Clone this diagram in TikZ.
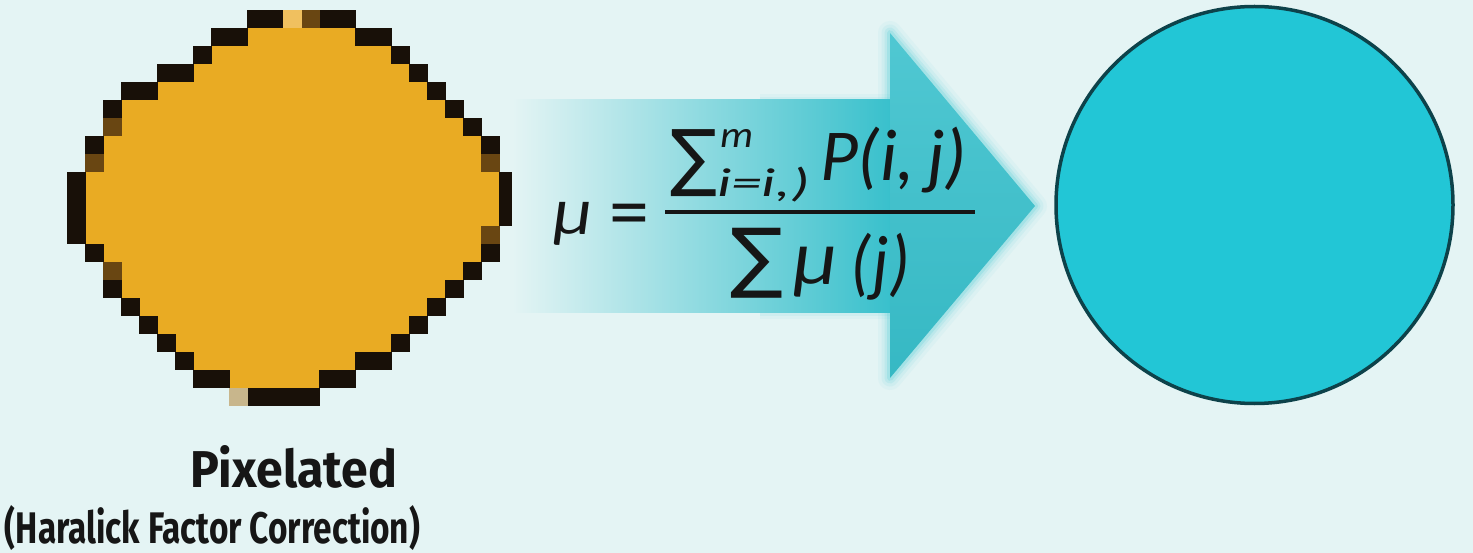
\documentclass[tikz,border=0pt]{standalone}
\usepackage{fontspec}
\newfontfamily\fml{Carlito}
\newfontfamily\symf{DejaVu Sans}
\newfontfamily\lbl{Fira Sans}
\definecolor{bg}{RGB}{228,244,244}
\definecolor{orng}{RGB}{233,171,35}
\definecolor{pxk}{RGB}{24,16,8}
\definecolor{pxb}{RGB}{105,70,18}
\definecolor{pxl}{RGB}{240,192,95}
\definecolor{pxg}{RGB}{200,182,140}
\definecolor{arr}{RGB}{56,192,204}
\definecolor{arrg}{RGB}{60,200,212}
\definecolor{circf}{RGB}{34,198,214}
\definecolor{circd}{RGB}{13,66,74}
\definecolor{ink}{RGB}{22,22,22}
\tikzset{
  txt/.style={inner sep=0pt, outer sep=0pt, text=ink},
  glowline/.style={arrg, line join=round}
}
\newcommand{\pcell}[3]{\fill[#3] ({67.3+18*#1-0.2},{10+18*#2-0.2}) rectangle ({67.3+18*#1+18.2},{10+18*#2+18.2});}
\begin{document}
\begin{tikzpicture}[x=1pt,y=-1pt]
\fill[bg] (0,0) rectangle (1473,553);
\useasboundingbox (0,0) rectangle (1473,553);

% ---------- pixelated shape ----------
\foreach \r/\a/\b in {0/10/15,1/8/17,2/7/18,3/5/19,4/3/20,5/2/21,6/2/22,7/1/23,8/1/23,9/0/24,10/0/24,11/0/24,12/0/23,13/1/23,14/2/22,15/2/21,16/3/20,17/4/19,18/5/18,19/6/17,20/7/15,21/9/13}
  {\fill[orng] ({67.3+18*\a},{10+18*\r-0.3}) rectangle ({67.3+18*(\b+1)},{10+18*(\r+1)+0.3});}
\foreach \c/\r in {10/0,11/0,14/0,15/0, 8/1,9/1,16/1,17/1, 7/2,18/2, 5/3,6/3,19/3, 3/4,4/4,20/4, 2/5,21/5, 22/6, 1/7,23/7, 0/9,24/9,0/10,24/10,0/11,24/11, 0/12, 1/13,23/13, 22/14, 2/15,21/15, 3/16,20/16, 4/17,19/17, 5/18,18/18, 6/19,16/19,17/19, 7/20,8/20,14/20,15/20, 10/21,11/21,12/21,13/21}
  {\pcell{\c}{\r}{pxk}}
\foreach \c/\r in {13/0, 2/6, 1/8, 23/8, 23/12, 2/14}
  {\pcell{\c}{\r}{pxb}}
\pcell{12}{0}{pxl}
\pcell{9}{21}{pxg}

% ---------- arrow ----------
\foreach \w/\o in {24/0.05,17/0.08,11/0.12,6/0.18}
  {\draw[glowline, line width=\w, opacity=\o]
    (890,100) -- (890,33) -- (1035,206) -- (890,378) -- (890,313);}
\foreach \w/\o in {12/0.05,6/0.08}
  {\draw[glowline, line width=\w, opacity=\o] (760,100) -- (890,100);
   \draw[glowline, line width=\w, opacity=\o] (760,313) -- (890,313);}
\shade[left color=bg, middle color=arr!55!bg, right color=arr] (512,100) rectangle (892,313);
\shade[top color=arr!88!white, bottom color=arr!96!black] (890,33) -- (1035,206) -- (890,378) -- cycle;

% ---------- formula ----------
\node[txt, anchor=north west] (mu) at (553,202) {\resizebox*{39pt}{43pt}{\fml\itshape μ}};
\node[txt, anchor=base west] (eq) at (609,239) {\fontsize{80}{80}\fml =};
\node[txt, anchor=north west] (sumA) at (670,130) {\resizebox*{47pt}{67pt}{\symf ∑}};
\node[txt, anchor=north west] (supm) at (720,130) {\resizebox*{33pt}{18pt}{\fml\itshape m}};
\node[txt, anchor=north west] (subi) at (717,167) {\resizebox*{93pt}{35pt}{\fml\itshape i=i,)}};
\node[txt, anchor=north west] (pij) at (820,127) {\resizebox*{147pt}{66pt}{\fml\itshape P(i,\,j)}};
\coordinate (barL) at (665,212);
\coordinate (barR) at (975,212);
\draw[ink, line width=3.5pt] (barL) -- (barR);
\node[txt, anchor=north west] (sumB) at (730,228) {\resizebox*{53pt}{70pt}{\symf ∑}};
\node[txt, anchor=north west] (muB) at (793,247) {\resizebox*{44pt}{50pt}{\fml\itshape μ}};
\node[txt, anchor=north west] (pj) at (850,233) {\resizebox*{60pt}{67pt}{\fml\itshape (j)}};

% ---------- circle ----------
\node[circle, draw=circd, line width=3.5pt, fill=circf, minimum size=397pt, inner sep=0pt] (circ) at (1254.5,205) {};

% ---------- labels ----------
\node[txt, anchor=base west] (lab1) at (190,487) {\resizebox{207pt}{42pt}{\lbl\bfseries Pixelated}};
\node[txt, anchor=base west] (lab2) at (5,543) {\resizebox{415pt}{38pt}{\lbl\bfseries (Haralick Factor Correction)}};
\end{tikzpicture}
\end{document}
